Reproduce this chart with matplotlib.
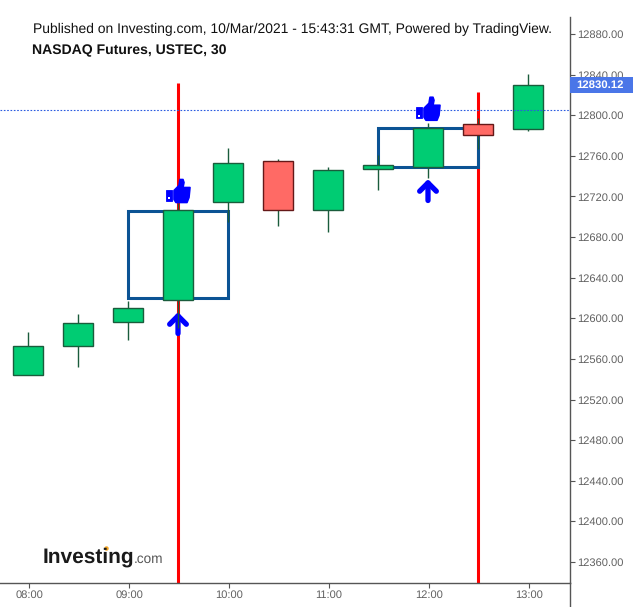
import matplotlib
matplotlib.use('Agg')
import matplotlib.pyplot as plt
from matplotlib.patches import Rectangle, Polygon
from matplotlib.transforms import Affine2D

plt.rcParams['font.family'] = ['Liberation Sans', 'DejaVu Sans']
plt.rcParams['text.hinting'] = 'no_hinting'

W, H = 633, 607

opens = [12544, 12573, 12596, 12618, 12714.5, 12755, 12707, 12747, 12749, 12791, 12786]
closes = [12573, 12595, 12610, 12707, 12753, 12707, 12746, 12751, 12787, 12780.5, 12830]
highs = [12586.5, 12604, 12617, 12714, 12768, 12757, 12749, 12761, 12792, 12797, 12840.6]
lows = [12544, 12552, 12579, 12590, 12695, 12691, 12685, 12726, 12738, 12767, 12784]

time_ticks = [0, 2, 4, 6, 8, 10]
time_labels = ['08:00', '09:00', '10:00', '11:00', '12:00', '13:00']
price_ticks = list(range(12360, 12881, 40))

last_price = 12830.12
dotted_price = 12804.7
boxes = [(2, 4, 12620, 12706), (7, 9, 12749, 12787)]
red_lines = [(3, 12832), (9, 12823)]
arrows = [(3, 12585, 12606), (8, 12716, 12737)]
thumbs = [(3, 12715), (8, 12796)]

GREEN = '#00cc73'
GREEN_EDGE = '#1a5c3c'
RED = '#ff6a65'
RED_EDGE = '#641818'
GREY = '#555555'
BLUE = '#0000ff'


def fig_xy(x, y):
    return x / W, 1 - y / H


def draw_thumb(ax, x, y):
    # icon drawn in pixels from its lower left corner
    px, py = ax.transData.transform((x, y))
    to_fig = Affine2D().translate(px - 12, py - 1)
    hand = [(8, 3), (10, 0), (21, 0), (23, 5), (24, 15), (17, 15), (18, 20), (17, 23), (14, 23), (13, 17), (8, 12)]
    ax.add_patch(Polygon(hand, closed=True, fc=BLUE, ec=BLUE, lw=1.2, joinstyle='round',
                         transform=to_fig, zorder=6, clip_on=False))
    ax.add_patch(Rectangle((0, 2), 6, 11, fc=BLUE, ec=BLUE, lw=0.6, transform=to_fig, zorder=6, clip_on=False))
    ax.add_patch(Rectangle((2, 3.5), 2, 2, fc='white', ec='none', transform=to_fig, zorder=7, clip_on=False))


fig = plt.figure(figsize=(W / 100, H / 100), dpi=100, facecolor='white')
ax = fig.add_axes([0, 1 - 583 / H, 570 / W, (583 - 17) / H])
ax.set_xlim(-0.56, 10.84)
ax.set_ylim(12339.3, 12896.7)

for x, top in red_lines:
    ax.vlines(x, ax.get_ylim()[0], top, color='#ff0000', lw=2.2, zorder=1)

for x0, x1, y0, y1 in boxes:
    ax.add_patch(Rectangle((x0, y0), x1 - x0, y1 - y0, fc='none', ec='#0b5394', lw=2.2, joinstyle='miter', zorder=2))

for x, y0, y1 in arrows:
    ax.annotate('', xy=(x, y1), xytext=(x, y0),
                arrowprops=dict(arrowstyle='->,head_length=0.6,head_width=0.6', color=BLUE, lw=3.8,
                                shrinkA=0, shrinkB=0, capstyle='round', joinstyle='round'), zorder=2.5)

for i in range(len(opens)):
    up = closes[i] >= opens[i]
    ax.vlines(i, lows[i], highs[i], color=GREEN_EDGE, lw=1, zorder=3)
    ax.bar(i, abs(closes[i] - opens[i]), bottom=min(opens[i], closes[i]), width=0.6,
           color=GREEN if up else RED, edgecolor=GREEN_EDGE if up else RED_EDGE, linewidth=1, zorder=4)

ax.axhline(dotted_price, color='#2b5be0', lw=0.8, ls=(0, (1.5, 1.5)), zorder=5)

for x, y in thumbs:
    draw_thumb(ax, x, y)

for side in ['top', 'left']:
    ax.spines[side].set_visible(False)
for side in ['right', 'bottom']:
    ax.spines[side].set_color(GREY)
    ax.spines[side].set_linewidth(1)

ax.yaxis.tick_right()
ax.set_yticks(price_ticks)
ax.set_yticklabels(['%.2f' % p for p in price_ticks])
# ticks sit one pixel right of the candles in the original
ax.set_xticks([t + 0.02 for t in time_ticks])
ax.set_xticklabels(time_labels)
ax.tick_params(axis='both', colors=GREY, labelcolor='#606060', labelsize=8, length=3.5, width=0.8, pad=1.5)

# axis line runs on below the plot
fig.add_artist(plt.Line2D([570 / W, 570 / W], [0, 1 - 583 / H], color=GREY, lw=1))

# last price tag
x, y = fig_xy(570, 93)
fig.add_artist(Rectangle((x, y), 63 / W, 16 / H, fc='#4a76e8', ec='none', transform=fig.transFigure, zorder=8))
x, y = fig_xy(576, 85)
fig.text(x, y, '%.2f' % last_price, va='center', ha='left', color='white', fontsize=8.2, fontweight='bold', zorder=9)

x, y = fig_xy(33, 29)
fig.text(x, y, 'Published on Investing.com, 10/Mar/2021 - 15:43:31 GMT, Powered by TradingView.',
         fontsize=9.98, color='#111111', va='center')
x, y = fig_xy(32, 51)
fig.text(x, y, 'NASDAQ Futures, USTEC, 30', fontsize=10.1, fontweight='bold', color='#111111', va='center')

# logo
x, y = fig_xy(43, 563)
fig.text(x, y, 'Investing', fontsize=15, fontweight='bold', color='#1a1a1a', va='baseline')
x, y = fig_xy(134, 563)
fig.text(x, y, '.com', fontsize=9.8, color='#555555', va='baseline')
x, y = fig_xy(106, 548)
fig.add_artist(plt.Line2D([x], [y], marker='o', ms=3.2, color='#f5a623', mec='none'))

fig.savefig('out.png', dpi=100)
